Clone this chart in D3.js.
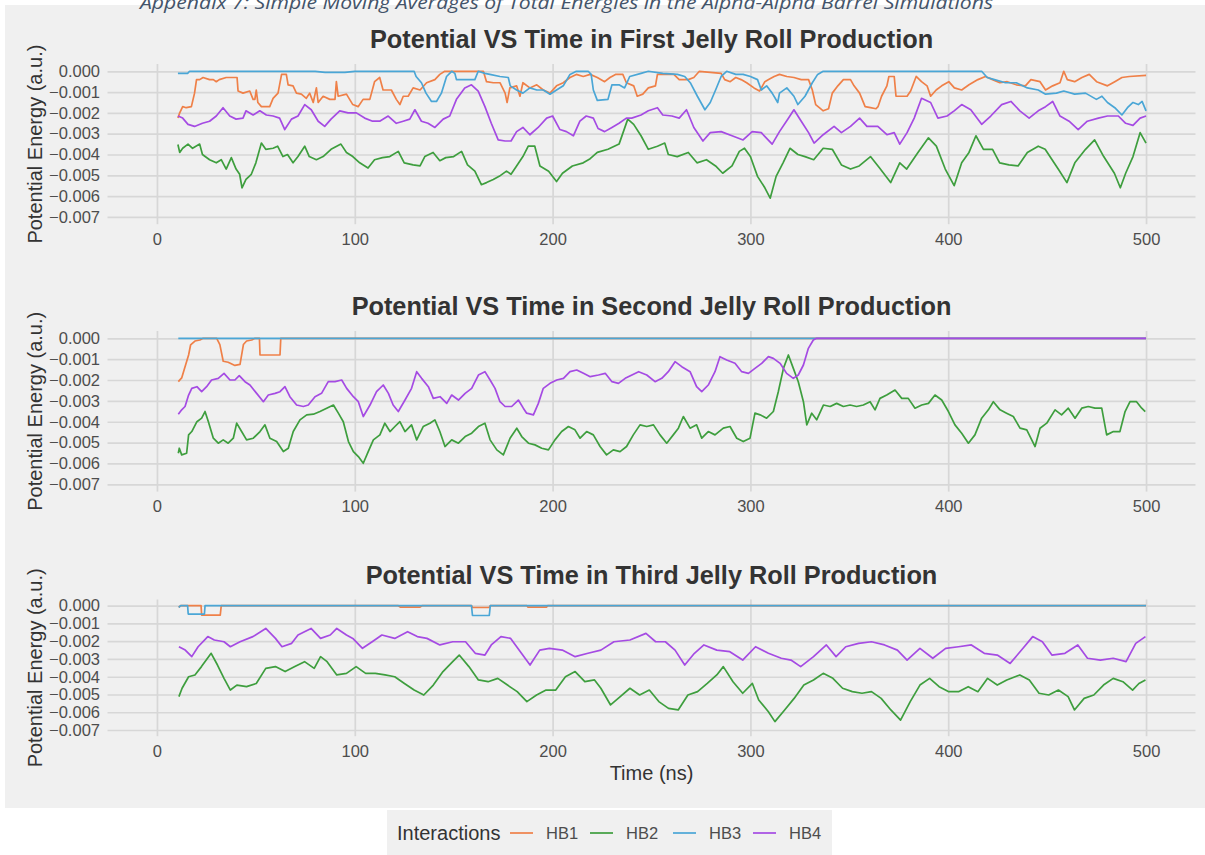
<!DOCTYPE html>
<html>
<head>
<meta charset="utf-8">
<script src="https://cdn.jsdelivr.net/npm/d3@7/dist/d3.min.js"></script>
<style>
  html, body { margin: 0; padding: 0; background: #ffffff; }
  svg { display: block; }
  text { font-family: "Liberation Sans", Arial, sans-serif; }
</style>
</head>
<body>
<svg id="chart" width="1205" height="855"></svg>
<script>
// ---------- data: potential energy (a.u.) vs time (ns), moving averages ----------
const interactions = ["HB1", "HB2", "HB3", "HB4"];
const xTicks = [0, 100, 200, 300, 400, 500];
const yTicks = [0, -0.001, -0.002, -0.003, -0.004, -0.005, -0.006, -0.007];
const panelTitles = [
  "Potential VS Time in First Jelly Roll Production",
  "Potential VS Time in Second Jelly Roll Production",
  "Potential VS Time in Third Jelly Roll Production"
];

// First production
const firstHB1 = [[10.6,-0.00225],[11.5,-0.002],[13,-0.0017],[14.8,-0.00175],[17.4,-0.0017],[19,-0.00105],[20,-0.0004],[21.6,-0.0004],[23.3,-0.0003],[26.6,-0.0004],[28.5,-0.0004],[30,-0.0005],[31.5,-0.0004],[35,-0.0003],[40.5,-0.0003],[41,-0.00095],[43.5,-0.00105],[46.9,-0.00095],[48.6,-0.00135],[49.5,-0.00135],[50.2,-0.0009],[51,-0.0015],[52.8,-0.0017],[57,-0.0017],[58.7,-0.0013],[61.2,-0.00105],[63,-0.00015],[65.4,-0.00015],[66.3,-0.00065],[68.8,-0.0007],[70.5,-0.00105],[73,-0.0011],[75.5,-0.0013],[77.2,-0.00105],[79,-0.0015],[80.6,-0.0008],[81.5,-0.0015],[84,-0.0012],[87.4,-0.00135],[90,-0.00135],[90.7,-0.0005],[91.6,-0.0012],[95.8,-0.0011],[99,-0.0016],[101.7,-0.0017],[104.2,-0.00135],[107.6,-0.00135],[110,-0.0005],[112.6,-0.0003],[114.3,-0.0009],[118.5,-0.0009],[121,-0.00135],[122.8,-0.0016],[124.5,-0.0012],[127,-0.0012],[129.5,-0.0008],[133,-0.0009],[136.3,-0.00055],[140.5,-0.0004],[143,-0.00015],[145.5,0],[165,0],[166.6,-0.0005],[170,-0.00055],[173.4,-0.00055],[176,-0.00105],[177,-0.0015],[178.4,-0.0008],[181.8,-0.0007],[183.5,-0.0012],[185,-0.00055],[188.5,-0.0008],[192,-0.00065],[195.3,-0.0009],[198.7,-0.00105],[202,-0.0007],[205.4,-0.00055],[208.8,-0.0003],[212,-0.00015],[215.5,-0.00025],[219,-0.00015],[222.6,-0.0003],[226.3,-0.0005],[229,-0.0003],[231.8,-0.00015],[235.5,-0.00015],[237.3,-0.00055],[241,-0.0007],[242.8,-0.0012],[245.6,-0.0011],[248.4,-0.0008],[252,-0.0007],[253,-0.00015],[261.3,-0.00015],[264,-0.0004],[268.6,-0.0004],[271.4,-0.0003],[274.2,0],[285.2,-0.0001],[287,-0.0004],[289.8,-0.0005],[292.6,-0.0003],[295.3,-0.0004],[298.1,-0.00055],[301.8,-0.0008],[304.6,-0.00095],[307.3,-0.0005],[309.2,-0.0004],[312,-0.00025],[314.7,-0.00015],[318.4,-0.00025],[322,-0.0003],[325.7,-0.0004],[329.4,-0.0004],[331.3,-0.0009],[333,-0.0016],[336.8,-0.0019],[339.5,-0.0018],[341.4,-0.00105],[344.2,-0.0007],[347,-0.0004],[350.6,-0.0004],[352.4,-0.0007],[355.2,-0.00105],[358,-0.0017],[360.7,-0.00175],[363.5,-0.0018],[364.5,-0.0017],[366.3,-0.0012],[369,-0.0007],[370,-0.00025],[372.7,-0.00025],[373.6,-0.0012],[379.2,-0.0012],[381,-0.00095],[383.8,-0.00025],[386.5,-0.0005],[389.3,-0.0007],[391.1,-0.0012],[393.9,-0.0009],[396.7,-0.0007],[400.3,-0.0005],[403.1,-0.0008],[406.8,-0.0009],[410.5,-0.00065],[415,-0.0004],[418.8,-0.00025],[422.4,-0.0004],[426.1,-0.00055],[429.8,-0.0005],[434.4,-0.00065],[439,-0.0007],[441.8,-0.0004],[446.4,-0.0005],[449.2,-0.0009],[452.8,-0.0007],[456.5,-0.00055],[458.4,0],[460.2,-0.0004],[463.9,-0.0005],[467.6,-0.0003],[471.3,-0.00015],[475,-0.0005],[480.5,-0.0007],[484.2,-0.0005],[487.8,-0.0003],[491.5,-0.00025],[500,-0.0002]];
const firstHB2 = [[10.6,-0.00352],[11.5,-0.0039],[13,-0.0037],[15.7,-0.0035],[18,-0.0037],[21.6,-0.0035],[23,-0.004],[26.6,-0.00425],[30,-0.0044],[32.5,-0.00425],[35,-0.0047],[37.6,-0.00415],[40,-0.0047],[41.8,-0.00495],[43,-0.0056],[45,-0.0052],[47.7,-0.00495],[50,-0.0044],[52.8,-0.00345],[55,-0.00375],[58.7,-0.0037],[61,-0.0036],[63.7,-0.0041],[66,-0.004],[68.8,-0.0044],[71.3,-0.0041],[74.7,-0.0036],[77,-0.0041],[80.6,-0.00425],[84,-0.0041],[88,-0.00375],[93,-0.0035],[95.8,-0.0039],[99,-0.0041],[102.5,-0.0044],[106.7,-0.00465],[110,-0.00425],[114,-0.00415],[117.7,-0.0041],[122,-0.00385],[125,-0.0044],[129.5,-0.0045],[133,-0.00455],[135.4,-0.0041],[139.6,-0.0039],[143,-0.0043],[146,-0.00415],[150,-0.0041],[154,-0.00385],[157,-0.0045],[160.7,-0.0048],[164,-0.00545],[166.6,-0.00535],[170,-0.0052],[173,-0.00505],[176.7,-0.0048],[179,-0.00495],[181.8,-0.00455],[185,-0.0041],[187.7,-0.0036],[191,-0.0036],[193.6,-0.00455],[198,-0.0048],[202,-0.0053],[205,-0.0049],[210,-0.00455],[215.5,-0.0044],[219,-0.0042],[222.6,-0.0039],[228,-0.00375],[233.6,-0.0035],[238,-0.0023],[241,-0.00255],[244.7,-0.0031],[248.4,-0.00375],[253,-0.0036],[256.7,-0.00345],[258.5,-0.004],[263,-0.0041],[268.6,-0.0039],[273,-0.0044],[277.8,-0.00425],[282.4,-0.00455],[286,-0.0049],[290.7,-0.00455],[294.4,-0.00385],[297,-0.0037],[300,-0.0041],[303.6,-0.00505],[307.3,-0.0056],[310,-0.0061],[313,-0.00505],[316.5,-0.0044],[320,-0.0037],[324,-0.004],[327.6,-0.0041],[332,-0.00425],[336.8,-0.0037],[341.4,-0.00375],[346,-0.0045],[350.6,-0.0047],[355,-0.00455],[360.7,-0.0041],[365.3,-0.00465],[370.9,-0.00535],[375.5,-0.0044],[379,-0.0047],[384.7,-0.0039],[390,-0.0032],[394,-0.0036],[398.5,-0.0047],[403,-0.0055],[406.8,-0.0044],[410.5,-0.0039],[414,-0.0031],[417.8,-0.00375],[422.4,-0.00375],[426,-0.0044],[430.7,-0.0045],[435.3,-0.00455],[440,-0.0039],[445.5,-0.0036],[449,-0.00375],[455.6,-0.0047],[460,-0.00535],[464,-0.0044],[469.4,-0.00375],[474,-0.0033],[478.6,-0.0041],[484,-0.0049],[487,-0.0056],[489.7,-0.0049],[493.4,-0.0041],[497,-0.00295],[500,-0.00345]];
const firstHB3 = [[10.6,-0.0001],[15.5,-0.0001],[16.5,0],[80,0],[85,-0.00005],[95,-0.00005],[100,0],[130,0],[131,-0.00025],[133.7,-0.00055],[136,-0.00105],[138.8,-0.00145],[141.3,-0.00145],[143.8,-0.00105],[146.4,-0.00025],[149,0],[150.6,-0.0001],[151.4,-0.0004],[160.7,-0.0004],[162.4,0],[165.8,-0.0001],[168.3,-0.00015],[173.4,-0.00025],[177.6,-0.0003],[178.6,-0.0007],[181.8,-0.0009],[185,-0.00105],[188.5,-0.0008],[192,-0.0009],[195.3,-0.0009],[198.7,-0.0011],[202,-0.0009],[205.4,-0.0007],[208.8,-0.00015],[212,0],[218,0],[219.5,-0.00015],[220.6,-0.0009],[222.6,-0.0014],[228,-0.00135],[230,-0.00065],[233.6,-0.00065],[236.4,-0.0008],[239,-0.00025],[244.7,-0.0001],[248.4,0],[255.7,-0.0001],[263.1,-0.00015],[266.8,-0.00025],[269.6,-0.00055],[273.2,-0.0012],[277,-0.00185],[279.7,-0.0015],[282.4,-0.0009],[285.2,-0.00025],[288,0],[292.6,-0.00015],[296.3,-0.00015],[300,-0.00025],[303.6,-0.0004],[305.5,-0.0009],[308.2,-0.0007],[311,-0.00105],[313.8,-0.0015],[314.7,-0.00105],[318.4,-0.0008],[322,-0.0012],[324,-0.0016],[327.6,-0.0012],[331.3,-0.00055],[334,-0.00015],[336.8,0],[416.9,0],[419.7,-0.0003],[423.4,-0.0004],[428.9,-0.00055],[434.4,-0.00055],[440,-0.0008],[445.5,-0.0009],[449.2,-0.0011],[454.7,-0.00105],[458.4,-0.00095],[463.9,-0.0011],[469.4,-0.00105],[474.9,-0.00135],[477.7,-0.0012],[480.5,-0.0015],[484.2,-0.00175],[487.8,-0.0021],[490.6,-0.00175],[493.4,-0.0015],[496.1,-0.0016],[498,-0.00145],[500,-0.0019]];
const firstHB4 = [[10.6,-0.00215],[13,-0.00225],[15.7,-0.00255],[19,-0.00265],[23,-0.0025],[26.6,-0.0024],[30,-0.00215],[33.4,-0.00175],[36.8,-0.00215],[40,-0.0023],[43.5,-0.00225],[45,-0.0019],[48.6,-0.0021],[52,-0.0019],[55.3,-0.0021],[58.7,-0.00215],[62,-0.00225],[64.6,-0.0028],[68,-0.0023],[71.3,-0.00215],[74.7,-0.0016],[78,-0.00185],[81.5,-0.0024],[84.8,-0.00265],[88,-0.0023],[92.4,-0.0019],[96.6,-0.002],[100.8,-0.002],[105,-0.00225],[109,-0.0024],[112.6,-0.0024],[116.9,-0.00215],[121,-0.0025],[124.5,-0.0024],[127.8,-0.0023],[130.4,-0.00185],[133.7,-0.0024],[137,-0.0025],[140.5,-0.0027],[144.7,-0.0023],[148,-0.00215],[151.4,-0.00135],[155.6,-0.0008],[159,-0.00065],[162.4,-0.00095],[165.8,-0.0017],[169,-0.0025],[172.5,-0.0033],[176,-0.00335],[179,-0.00335],[181.8,-0.0029],[185,-0.0027],[188.5,-0.00305],[192.7,-0.0027],[197,-0.00225],[200,-0.00215],[203.7,-0.0028],[207,-0.0029],[210.5,-0.0031],[213.8,-0.0024],[217,-0.00215],[220.6,-0.00225],[223,-0.00275],[226.3,-0.0029],[230,-0.0027],[233.6,-0.0025],[237.3,-0.00225],[240,-0.00225],[244.7,-0.0021],[248.4,-0.0019],[253,-0.00175],[255.7,-0.0021],[260.3,-0.00215],[264,-0.00225],[267.7,-0.00185],[271.4,-0.0027],[276,-0.00335],[279.7,-0.00295],[285.2,-0.0029],[290.7,-0.0031],[296.3,-0.0033],[300.9,-0.0029],[305.5,-0.00295],[311,-0.0035],[314.7,-0.0029],[319.3,-0.00225],[322,-0.00185],[325.7,-0.0024],[329.4,-0.00295],[332.2,-0.00345],[336.8,-0.00305],[342.3,-0.00265],[346,-0.00295],[350.6,-0.00265],[355.2,-0.00225],[358.9,-0.00265],[364.4,-0.00265],[369,-0.00305],[372.7,-0.00295],[375.5,-0.0035],[379.2,-0.00295],[382.8,-0.00225],[386.5,-0.0013],[391.1,-0.0015],[394.8,-0.00225],[399.4,-0.00215],[403,-0.0019],[406.8,-0.0016],[411.4,-0.00185],[416.9,-0.00255],[421.5,-0.00215],[427,-0.0016],[431.7,-0.00145],[436.2,-0.0019],[440.9,-0.00225],[445.5,-0.0019],[449.2,-0.0017],[452.8,-0.00145],[456.5,-0.00215],[461.1,-0.0024],[465.7,-0.0028],[470.3,-0.0024],[475.9,-0.00225],[480.5,-0.00215],[486,-0.00215],[489.7,-0.0025],[493.4,-0.0026],[497,-0.00225],[500,-0.00215]];

// Second production
const secondHB1 = [[10.8,-0.00208],[12.5,-0.0019],[14.2,-0.00136],[16,-0.0008],[17,-0.00032],[19.2,-0.00013],[21.7,-0.00008],[23.4,0],[30.2,0],[31.8,-0.0003],[33.5,-0.0011],[36,-0.00115],[39.4,-0.0013],[42,-0.00125],[43.7,-0.0003],[45.3,-0.00013],[47.9,-0.00008],[49.6,0],[51.8,0],[52.1,-0.0008],[62.2,-0.0008],[62.6,0],[500,0]];
const secondHB2 = [[10.8,-0.00551],[11.3,-0.00527],[12.5,-0.00559],[15,-0.00551],[16,-0.00463],[17.6,-0.00447],[20.2,-0.004],[22.6,-0.00383],[24.3,-0.00351],[26,-0.004],[28.5,-0.00479],[31,-0.00503],[33.5,-0.00487],[36,-0.00503],[38.6,-0.00479],[40.3,-0.00407],[42.8,-0.00447],[45.3,-0.00487],[48.7,-0.00479],[52.1,-0.00447],[54.6,-0.00415],[57.1,-0.00479],[60.5,-0.00495],[63.9,-0.00543],[66.4,-0.00527],[68.9,-0.00447],[72.3,-0.00391],[75.7,-0.00367],[79.1,-0.00364],[82.4,-0.00351],[85.8,-0.00335],[89.2,-0.0032],[91.7,-0.00359],[94.2,-0.004],[96.8,-0.00495],[99.3,-0.00543],[101.8,-0.00567],[104.3,-0.00599],[106.8,-0.00543],[109.4,-0.00487],[112.7,-0.00463],[115.2,-0.00407],[117.8,-0.00447],[120.3,-0.00423],[122.8,-0.004],[125.4,-0.00447],[128.7,-0.00415],[131.3,-0.00487],[134.6,-0.00423],[138,-0.00407],[140.5,-0.00391],[143,-0.00447],[145.6,-0.00519],[149,-0.00487],[152.4,-0.00503],[155.8,-0.00471],[159.1,-0.00455],[162.5,-0.00423],[165.8,-0.00407],[168.4,-0.00487],[171.8,-0.00535],[175.1,-0.00559],[178.5,-0.00479],[181.9,-0.00431],[184.4,-0.00471],[187.8,-0.00503],[191.1,-0.00511],[194.5,-0.00527],[197.9,-0.00535],[201.2,-0.00487],[204.6,-0.00447],[208,-0.00423],[211.3,-0.00439],[213.9,-0.00479],[217.2,-0.00447],[220.6,-0.00463],[224,-0.00519],[227.3,-0.00559],[230.7,-0.00535],[234.1,-0.00543],[237.4,-0.00519],[240.8,-0.00463],[244.2,-0.00415],[247.6,-0.00423],[251,-0.00415],[254.3,-0.00463],[257.7,-0.00503],[261,-0.00463],[263.6,-0.00431],[266.1,-0.00375],[269.5,-0.00431],[272.8,-0.00415],[275.4,-0.00479],[278.7,-0.00447],[282.1,-0.00463],[286.3,-0.00431],[289.7,-0.00423],[293.1,-0.00479],[296.4,-0.00495],[299.8,-0.00479],[302.3,-0.00359],[304.9,-0.00367],[308.2,-0.00383],[311.6,-0.00351],[314.1,-0.00256],[316.7,-0.00144],[319.2,-0.0008],[321.7,-0.00144],[324.2,-0.00208],[326.8,-0.00304],[328.5,-0.00415],[331,-0.00359],[333.5,-0.00391],[336.9,-0.0032],[340.3,-0.00327],[343.6,-0.00312],[347,-0.00327],[350.4,-0.0032],[353.7,-0.00327],[357.1,-0.0032],[360.5,-0.00304],[363,-0.00343],[365.5,-0.00288],[368.9,-0.00272],[373.1,-0.00248],[376.5,-0.00288],[379.8,-0.00288],[383.2,-0.00335],[386.6,-0.0032],[390,-0.00312],[393.3,-0.00272],[396.7,-0.00296],[400.1,-0.00351],[403.4,-0.00415],[406.8,-0.00455],[410.2,-0.00503],[413.5,-0.00463],[416.9,-0.00383],[420.3,-0.00343],[422.8,-0.00304],[426.2,-0.00343],[429.5,-0.00359],[432.9,-0.00375],[436.3,-0.00431],[439.7,-0.00439],[443.9,-0.00519],[446.4,-0.00431],[449.8,-0.00407],[454,-0.00343],[457.3,-0.00367],[460.7,-0.00335],[464.1,-0.00383],[467.5,-0.00335],[470.8,-0.00327],[474.2,-0.00335],[477.6,-0.00335],[480.1,-0.00463],[483.5,-0.00447],[486.8,-0.00447],[489.4,-0.00351],[491.9,-0.00304],[495.2,-0.00304],[497.8,-0.00335],[499.6,-0.00351]];
const secondHB3 = [[10.8,0],[500,0]];
const secondHB4 = [[10.8,-0.00364],[12.5,-0.00343],[14.2,-0.00327],[16,-0.00272],[17.6,-0.0024],[20.2,-0.00232],[22.6,-0.00256],[25.1,-0.00232],[27.6,-0.002],[31,-0.00192],[33.9,-0.00168],[36.9,-0.002],[39.4,-0.002],[41.6,-0.00179],[44.5,-0.00208],[47,-0.00224],[50.4,-0.00264],[53.8,-0.00304],[56.3,-0.00272],[59.7,-0.00264],[62.2,-0.00256],[64.7,-0.00232],[67.2,-0.0028],[70.6,-0.0032],[74,-0.00327],[76.5,-0.0032],[79.9,-0.0028],[83.2,-0.00264],[86.6,-0.00208],[90,-0.00208],[93.4,-0.002],[95.9,-0.0024],[99.3,-0.0028],[101.8,-0.00304],[104.3,-0.00375],[107.7,-0.0032],[111,-0.00256],[114.4,-0.00224],[117,-0.00264],[119.4,-0.0032],[122,-0.00351],[125.4,-0.00296],[128.7,-0.0024],[131.3,-0.0016],[133.8,-0.00192],[137.2,-0.00232],[139.7,-0.00288],[143.1,-0.0028],[146.5,-0.00312],[149,-0.00272],[152.4,-0.00296],[155.8,-0.00264],[159.1,-0.0024],[162.5,-0.00176],[165.8,-0.0016],[168.4,-0.002],[170.9,-0.0024],[173.4,-0.00304],[176,-0.00327],[179.3,-0.00327],[182.7,-0.00296],[185.2,-0.00335],[186.9,-0.00359],[190.3,-0.00367],[192.8,-0.00312],[195.3,-0.0024],[198.7,-0.00216],[202.1,-0.002],[205.5,-0.00192],[208.8,-0.0016],[212.2,-0.00152],[215.6,-0.00168],[219,-0.00184],[223.2,-0.00176],[226.6,-0.00168],[230,-0.00208],[233.3,-0.00216],[236.7,-0.00192],[240.1,-0.00176],[243.5,-0.0016],[247.6,-0.00176],[251.8,-0.00208],[255.2,-0.00192],[258.5,-0.0016],[261.9,-0.00112],[265.3,-0.00136],[269.5,-0.0016],[272.8,-0.00232],[275.4,-0.00256],[278.7,-0.00224],[282.1,-0.0016],[284.6,-0.00088],[288,-0.00104],[292.2,-0.0012],[295.6,-0.0016],[299,-0.00168],[302.3,-0.00144],[305.7,-0.0012],[309.1,-0.00088],[311.6,-0.00096],[315,-0.0012],[318.3,-0.00168],[321.7,-0.00192],[324.2,-0.00176],[326.8,-0.00128],[329.3,-0.00048],[331.8,-0.00008],[333.5,0],[500,0]];

// Third production
const thirdHB1 = [[11,-0.0001],[12,0],[22.3,0],[22.6,-0.00053],[32,-0.00053],[32.5,0],[122,0],[123,-0.00008],[133,-0.00008],[134,0],[159,0],[159.5,-0.0001],[168,-0.0001],[168.5,0],[187,0],[187.5,-0.00008],[197,-0.00008],[197.5,0],[500,0]];
const thirdHB2 = [[11.1,-0.00512],[12.7,-0.00465],[16,-0.004],[19.2,-0.0039],[22.5,-0.00343],[27.4,-0.00268],[30.6,-0.00334],[33.9,-0.00409],[37.1,-0.00475],[40.4,-0.00447],[45.3,-0.00456],[50.2,-0.00438],[55,-0.00353],[59.9,-0.00343],[64.8,-0.00371],[69.7,-0.00343],[74.6,-0.00315],[79.5,-0.00353],[82.7,-0.00287],[86,-0.00315],[90.9,-0.0039],[95.8,-0.00381],[100.7,-0.00343],[105.5,-0.00381],[110.4,-0.00381],[115.3,-0.0039],[120.2,-0.004],[125.1,-0.00438],[130,-0.00475],[134.9,-0.00503],[139.7,-0.00447],[144.6,-0.00371],[149.5,-0.00315],[152.8,-0.00278],[157.7,-0.00343],[162.5,-0.00418],[167.4,-0.00428],[172.3,-0.00409],[177.2,-0.00447],[182.1,-0.00484],[187,-0.0054],[191.9,-0.00503],[196.7,-0.00475],[201.6,-0.00475],[206.5,-0.004],[211.4,-0.00371],[216.3,-0.00428],[221.2,-0.00418],[224.4,-0.00465],[229.3,-0.00559],[234.2,-0.00512],[239.1,-0.00465],[244,-0.00503],[248.9,-0.00475],[253.7,-0.0054],[258.6,-0.00578],[263.5,-0.00587],[268.4,-0.00503],[273.3,-0.00484],[278.2,-0.00438],[283,-0.0039],[286.3,-0.00343],[291.2,-0.00428],[296.1,-0.00493],[301,-0.00438],[304.2,-0.00531],[309.1,-0.00597],[312.4,-0.00653],[317.3,-0.00587],[322.1,-0.00522],[327,-0.00447],[331.9,-0.00418],[336.8,-0.00381],[341.7,-0.00409],[346.6,-0.00465],[351.5,-0.00484],[356.4,-0.00493],[361.2,-0.00484],[366.1,-0.00522],[371,-0.00587],[375.9,-0.00644],[380.8,-0.0054],[385.7,-0.00447],[390.6,-0.00409],[395.4,-0.00456],[400.3,-0.00484],[405.2,-0.00484],[410.1,-0.00456],[415,-0.00484],[419.9,-0.00409],[424.8,-0.00447],[429.6,-0.00418],[436.2,-0.0039],[441,-0.00418],[445.9,-0.00493],[450.8,-0.00503],[455.7,-0.00475],[460.6,-0.00512],[463.8,-0.00587],[468.7,-0.00522],[473.6,-0.00503],[478.5,-0.00447],[483.4,-0.00409],[488.3,-0.00428],[493.2,-0.00475],[496.4,-0.00438],[499.7,-0.00418]];
const thirdHB3 = [[11,-0.0001],[12,0],[15.5,0],[15.8,-0.00047],[24,-0.00047],[24.3,0],[159,0],[159.5,-0.00055],[168,-0.00055],[168.5,0],[500,0]];
const thirdHB4 = [[11.1,-0.00231],[14.3,-0.0025],[17.6,-0.00287],[20.8,-0.00231],[25.7,-0.00174],[29,-0.00193],[33.9,-0.00203],[37.1,-0.00231],[42,-0.00203],[48.5,-0.00174],[55,-0.00128],[59.9,-0.00184],[63.2,-0.00231],[68.1,-0.00212],[71.3,-0.00165],[77.9,-0.00128],[82.7,-0.00184],[87.6,-0.00165],[90.9,-0.00128],[95.8,-0.00165],[99,-0.00184],[103.9,-0.0024],[108.8,-0.00203],[113.7,-0.00165],[120.2,-0.00184],[126.7,-0.00146],[131.6,-0.00174],[136.5,-0.00184],[143,-0.00221],[149.5,-0.00203],[156,-0.00203],[160.9,-0.00268],[165.8,-0.00278],[169,-0.00221],[173.9,-0.00174],[178.8,-0.00184],[183.7,-0.00259],[188.6,-0.00334],[193.5,-0.0025],[198.4,-0.0024],[204.9,-0.0025],[211.4,-0.00287],[217.9,-0.00268],[224.4,-0.0025],[231,-0.00203],[239.1,-0.00193],[247.2,-0.00156],[252.1,-0.00203],[257,-0.00203],[261.9,-0.0025],[266.8,-0.00334],[271.7,-0.00268],[276.5,-0.00221],[283,-0.0025],[289.6,-0.00259],[296.1,-0.00306],[302.6,-0.00231],[309.1,-0.00268],[315.6,-0.00296],[320.5,-0.00306],[325.4,-0.00343],[331.9,-0.00287],[338.4,-0.00221],[343.3,-0.00287],[348.2,-0.00231],[354.7,-0.00212],[361.2,-0.00203],[367.8,-0.00221],[374.3,-0.0025],[379.2,-0.00306],[385.7,-0.0024],[392.2,-0.00296],[398.7,-0.0024],[405.2,-0.00231],[411.7,-0.00221],[418.2,-0.00268],[424.8,-0.00278],[431.3,-0.00325],[437.8,-0.0024],[442.7,-0.00174],[447.6,-0.00203],[452.4,-0.00278],[459,-0.00268],[465.5,-0.00221],[470.4,-0.00296],[476.9,-0.00306],[483.4,-0.00296],[489.9,-0.00315],[494.8,-0.00212],[499.7,-0.00174]];

const productions = [
  { HB1: firstHB1,  HB2: firstHB2,  HB3: firstHB3,  HB4: firstHB4 },
  { HB1: secondHB1, HB2: secondHB2, HB3: secondHB3, HB4: secondHB4 },
  { HB1: thirdHB1,  HB2: thirdHB2,  HB3: thirdHB3,  HB4: thirdHB4 }
];

// ---------- styling & layout ----------
const colors = { HB1: "#ef8048", HB2: "#3e9e3e", HB3: "#4aa6d6", HB4: "#a54be3" };
const panelBg = "#f0f0f0";
const gridColor = "#d7d7d7";
const plotLeft = 107.5, plotRight = 1195.5;
const panelBoxes = [
  { top: 64.0,  height: 160.2 },
  { top: 331.0, height: 160.6 },
  { top: 599.5, height: 136.7 }
];

const svg = d3.select("#chart");

// page background + grey plotting canvas
svg.append("rect").attr("x", 0).attr("y", 0).attr("width", 1205).attr("height", 855).attr("fill", "#ffffff");
svg.append("rect").attr("x", 5).attr("y", 5).attr("width", 1200).attr("height", 803).attr("fill", panelBg);

// caption above the figure (its upper part runs past the top edge)
svg.append("text")
  .attr("x", 140).attr("y", 9)
  .attr("textLength", 853).attr("lengthAdjust", "spacingAndGlyphs")
  .style("font-family", "'Open Sans', 'DejaVu Sans', sans-serif")
  .style("font-style", "italic")
  .style("font-size", "19px")
  .attr("fill", "#44546a")
  .text("Appendix 7: Simple Moving Averages of Total Energies in the Alpha-Alpha Barrel Simulations");

const x = d3.scaleLinear().domain([-25, 525]).range([plotLeft, plotRight]);

productions.forEach((prod, i) => {
  const box = panelBoxes[i];
  const y = d3.scaleLinear().domain([-0.00735, 0.00035]).range([box.top + box.height, box.top]);
  const g = svg.append("g");

  // horizontal grid + y tick labels
  const yAxis = g.append("g")
    .attr("transform", `translate(${plotLeft},0)`)
    .call(d3.axisLeft(y).tickValues(yTicks).tickFormat(d3.format(".3f"))
      .tickSize(-(plotRight - plotLeft)).tickPadding(7.5));
  // vertical grid + x tick labels
  const xAxis = g.append("g")
    .attr("transform", `translate(0,${box.top + box.height})`)
    .call(d3.axisBottom(x).tickValues(xTicks).tickFormat(d3.format("d"))
      .tickSize(-box.height).tickPadding(9));

  [yAxis, xAxis].forEach(ax => {
    ax.select(".domain").remove();
    ax.selectAll(".tick line").attr("stroke", gridColor).attr("stroke-width", 1.7);
    ax.selectAll(".tick text")
      .attr("fill", "#4d4d4d")
      .style("font-size", "16.5px")
      .style("font-family", "'Liberation Sans', Arial, sans-serif");
  });

  // series lines
  const line = d3.line().x(d => x(d[0])).y(d => y(d[1]));
  interactions.forEach(k => {
    g.append("path")
      .datum(prod[k])
      .attr("fill", "none")
      .attr("stroke", colors[k])
      .attr("stroke-width", 1.7)
      .attr("stroke-linejoin", "round")
      .attr("d", line);
  });

  // panel title
  g.append("text")
    .attr("x", (plotLeft + plotRight) / 2)
    .attr("y", box.top - 16)
    .attr("text-anchor", "middle")
    .attr("fill", "#333333")
    .style("font-weight", "bold")
    .style("font-size", "25.3px")
    .text(panelTitles[i]);

  // y-axis title
  g.append("text")
    .attr("transform", `translate(41.5,${box.top + box.height / 2}) rotate(-90)`)
    .attr("text-anchor", "middle")
    .attr("fill", "#333333")
    .style("font-size", "20px")
    .text("Potential Energy (a.u.)");
});

// x-axis title (bottom panel only)
svg.append("text")
  .attr("x", (plotLeft + plotRight) / 2)
  .attr("y", 780)
  .attr("text-anchor", "middle")
  .attr("fill", "#333333")
  .style("font-size", "20px")
  .text("Time (ns)");

// legend
const legend = svg.append("g");
legend.append("rect").attr("x", 387).attr("y", 810).attr("width", 445).attr("height", 45).attr("fill", panelBg);
legend.append("text")
  .attr("x", 397).attr("y", 840)
  .attr("fill", "#333333")
  .style("font-size", "20px")
  .text("Interactions");
const keyX = [510, 590, 673, 753];
interactions.forEach((k, i) => {
  legend.append("line")
    .attr("x1", keyX[i]).attr("x2", keyX[i] + 23)
    .attr("y1", 833).attr("y2", 833)
    .attr("stroke", colors[k]).attr("stroke-width", 1.7);
  legend.append("text")
    .attr("x", keyX[i] + 36).attr("y", 839)
    .attr("fill", "#4d4d4d")
    .style("font-size", "16.5px")
    .text(k);
});
</script>
</body>
</html>
